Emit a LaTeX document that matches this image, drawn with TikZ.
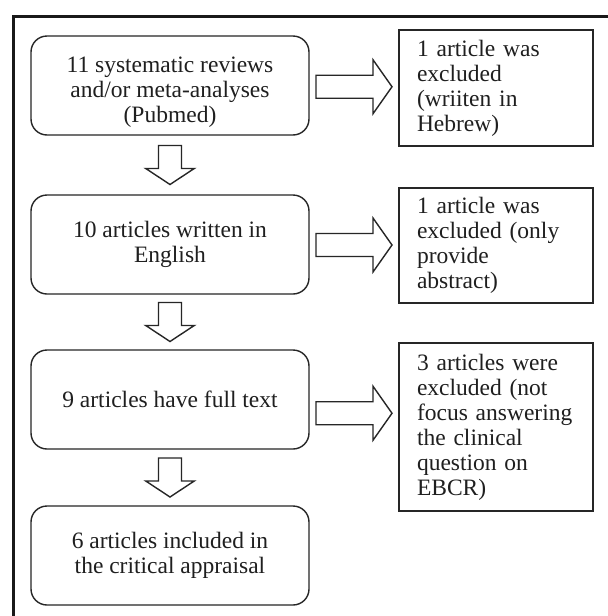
\documentclass[tikz,border=0pt]{standalone}
\usepackage{fontspec}
\setmainfont{Liberation Serif}
\usetikzlibrary{calc}
\begin{document}
\begin{tikzpicture}[x=0.5pt,y=-0.5pt,
  txt/.style={font=\fontsize{11.75pt}{12.5pt}\selectfont,text=black!88},
  mainbox/.style={txt,draw=black!85,line width=0.7pt,rounded corners=8pt,minimum width=139pt,minimum height=49.5pt,align=center,inner sep=2pt},
  sidebox/.style={txt,draw=black!85,line width=0.7pt,minimum width=97pt,text width=79pt,inner xsep=9pt,align=left},
  blk/.style={draw=black!85,line width=0.7pt,fill=white,line join=miter}]
\useasboundingbox (0,0) rectangle (608,616);
\fill[white] (0,0) rectangle (608,616);
% frame
\draw[line width=1.7pt,black!90] (13.5,616) -- (13.5,16.5) -- (608,16.5);
% main boxes
\node[mainbox] (b1) at (170,85.5) {};
\node[txt,align=center,inner sep=0pt] (b1t) at (170,92) {11 systematic reviews\\and/or meta-analyses\\(Pubmed)};
\node[mainbox] (b2) at (170,244.5) {10 articles written in\\English};
\node[mainbox] (b3) at (170,399.5) {9 articles have full text};
\node[mainbox] (b4) at (170,555.5) {6 articles included in\\the critical appraisal};
% side boxes
\node[sidebox,minimum height=58pt] (r1) at (496,88) {1 article was\\excluded\\(wriiten in\\Hebrew)};
\node[sidebox,minimum height=57.5pt] (r2) at (496,245.5) {1 article was\\excluded (only\\provide\\abstract)};
\node[sidebox,minimum height=84pt] (r3) at (496,427) {3 articles were\\excluded (not\\focus answering\\the clinical\\question on\\EBCR)};
% right block arrows
\foreach \a/\b in {b1/r1,b2/r2,b3/r3}{
  \draw[blk] ($(\a.east)!0.5!(\b.west)$) ++(-38,-11.5) -- ++(57,0) -- ++(0,-15.5) -- ++(19,27) -- ++(-19,27) -- ++(0,-15.5) -- ++(-57,0) -- cycle;
}
% down block arrows
\foreach \a/\b in {b1/b2,b2/b3,b3/b4}{
  \draw[blk] ($(\a.south)!0.5!(\b.north)$) ++(-11.5,-19.5) -- ++(23,0) -- ++(0,23) -- ++(12.75,0) -- ++(-24.25,16) -- ++(-24.25,-16) -- ++(12.75,0) -- cycle;
}
\end{tikzpicture}
\end{document}
